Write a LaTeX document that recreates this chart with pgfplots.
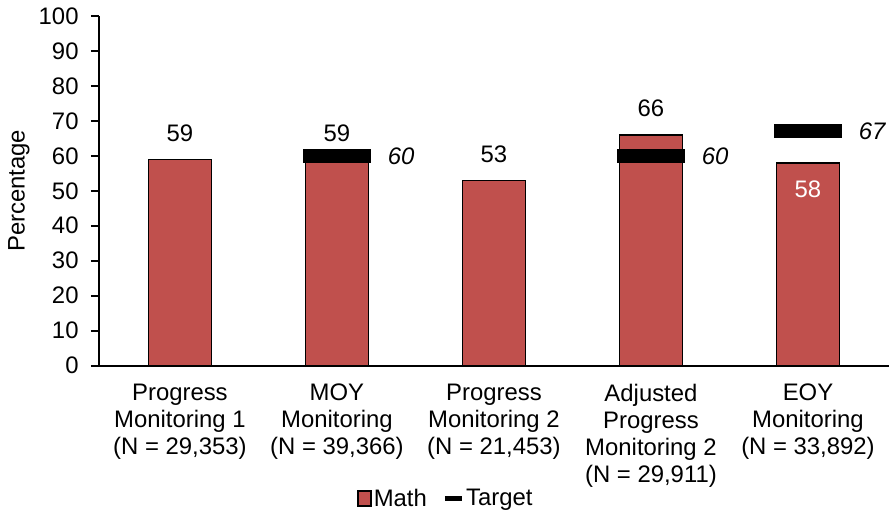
\documentclass[border=0pt]{standalone}
\usepackage{pgfplots}
\pgfplotsset{compat=1.18}
\usepackage{fontspec}
\setmainfont{Liberation Sans}
\definecolor{barred}{HTML}{C0504D}

\begin{document}
\fontsize{12}{13.6}\selectfont
\begin{tikzpicture}
\begin{axis}[
  scale only axis, width=395.5bp, height=175bp,
  ymin=0, ymax=100, ytick={0,10,...,100},
  xmin=-0.516, xmax=4.516,
  xtick={0,1,2,3,4},
  xticklabels={{Progress\\Monitoring 1\\(N = 29,353)},
               {MOY\\Monitoring\\(N = 39,366)},
               {Progress\\Monitoring 2\\(N = 21,453)},
               {Adjusted\\Progress\\Monitoring 2\\(N = 29,911)},
               {EOY\\Monitoring\\(N = 33,892)}},
  xticklabel style={align=center, anchor=north, font=\fontsize{12}{13.6}\selectfont, yshift=-1bp},
  yticklabel style={font=\fontsize{12}{14}\selectfont, xshift=-2bp},
  /pgf/number format/assume math mode=true,
  axis x line*=bottom, axis y line*=left,
  axis line style={-, line width=1bp, black},
  tick align=outside, major tick length=4bp,
  ytick style={line width=1bp, black},
  xtick style={draw=none},
  ylabel={Percentage},
  ylabel style={at={(axis description cs:-0.1011,0.5)}, anchor=center, font=\fontsize{12}{14}\selectfont},
  legend style={draw=none, at={(0.439,-0.382)}, anchor=center, legend columns=-1,
    /tikz/every even column/.append style={column sep=7bp},
    nodes={inner sep=0.8bp},
    font=\fontsize{12}{14}\selectfont, inner sep=0pt},
  clip=false,
]
\addplot[ybar, bar width=31.5bp, bar shift=0pt, fill=barred, draw=black, line width=0.75bp,
  nodes near coords,
  nodes near coords style={anchor=south, inner sep=0pt, yshift=8.5bp, black},
  legend image code/.code={\draw[fill=barred, draw=black, line width=0.9bp] (0bp,-3.6bp) rectangle (6.5bp,4.2bp);}]
  coordinates {(0,59) (1,59) (2,53) (3,66)};
\addlegendentry{Math}
\addplot[ybar, bar width=31.5bp, bar shift=0pt, fill=barred, draw=black, line width=0.75bp, forget plot,
  nodes near coords,
  nodes near coords style={anchor=north, inner sep=0pt, yshift=-8.5bp, white}]
  coordinates {(4,58)};
\addplot[only marks, mark=-, mark size=17bp, mark options={line width=7bp, black},
  nodes near coords,
  nodes near coords style={anchor=west, inner sep=0pt, xshift=22bp, font=\fontsize{12}{14}\selectfont\itshape, black},
  legend image code/.code={\draw[line width=2.5bp, black] (0bp,0.3bp) -- (8.5bp,0.3bp);}]
  coordinates {(1,60) (3,60) (4,67)};
\addlegendentry{Target}
\end{axis}
\pgfresetboundingbox
\path ([xshift=-49.5bp,yshift=-73.5bp]current axis.south west) rectangle ([xshift=0.5bp,yshift=8bp]current axis.north east);
\end{tikzpicture}
\end{document}
